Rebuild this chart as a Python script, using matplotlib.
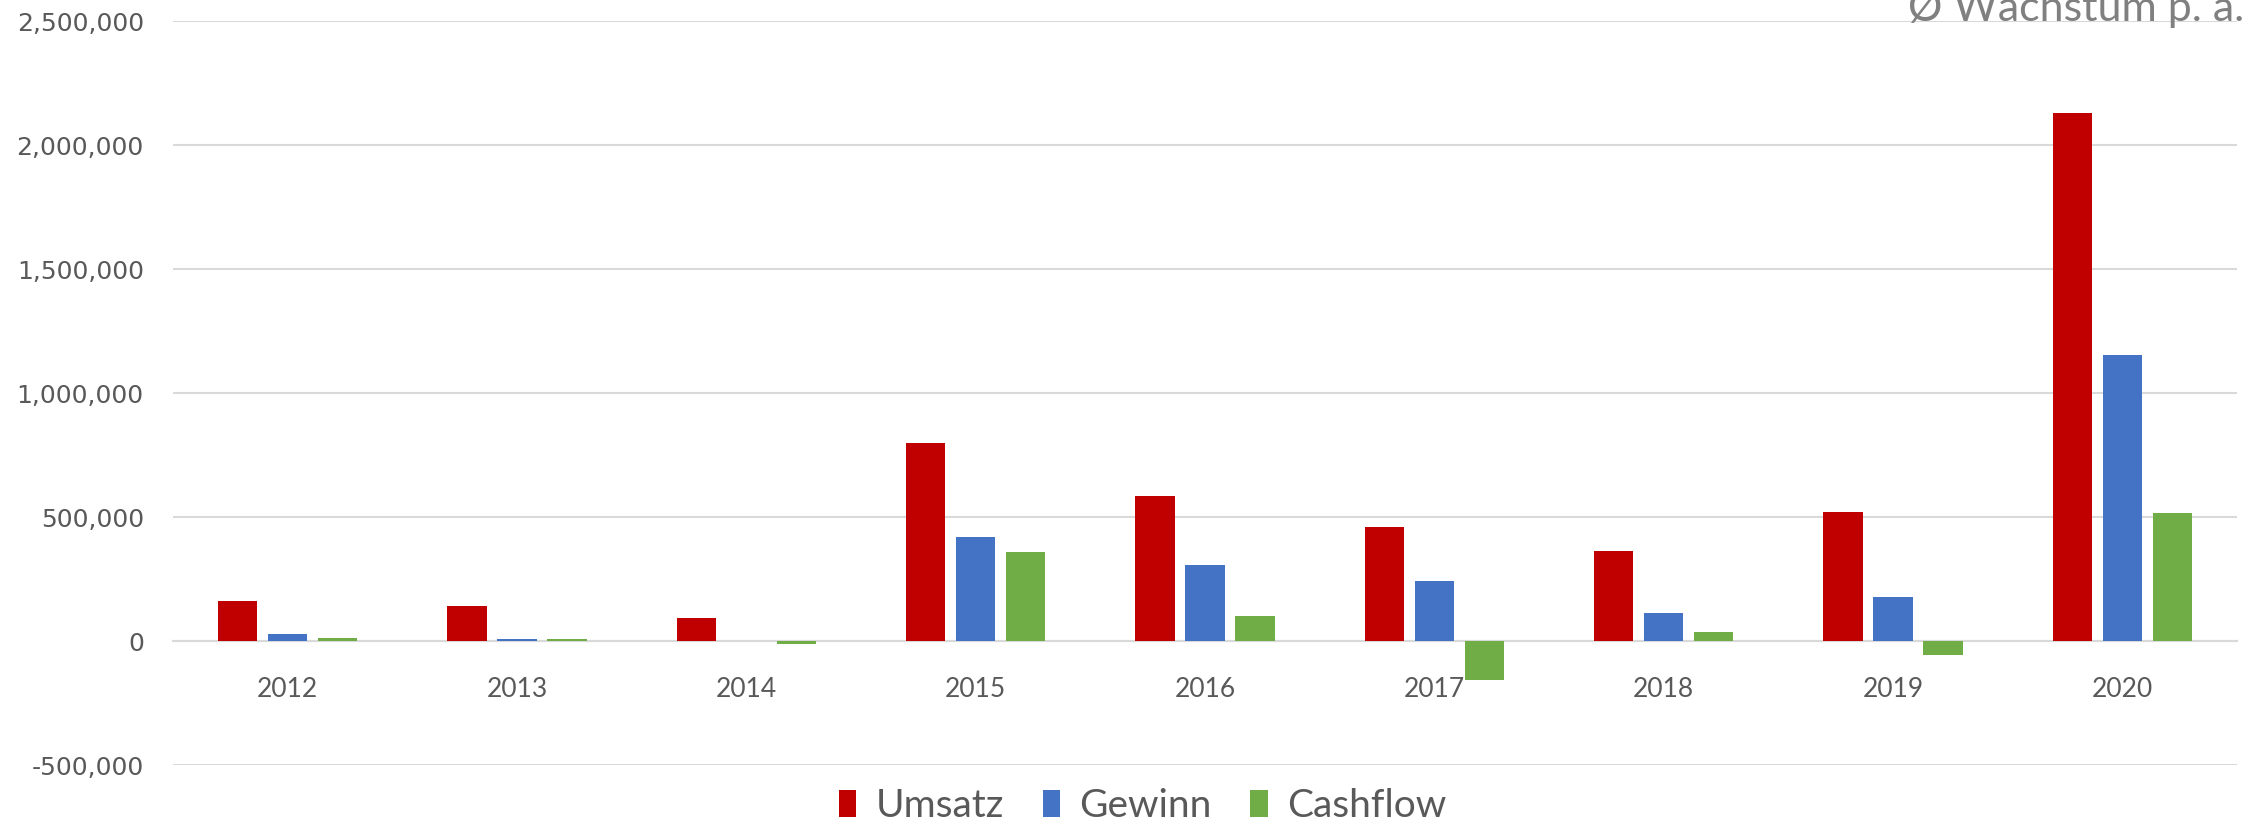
import matplotlib
matplotlib.use("Agg")
import matplotlib.pyplot as plt
import numpy as np
from matplotlib.ticker import FuncFormatter

years = ["2012", "2013", "2014", "2015", "2016", "2017", "2018", "2019", "2020"]
umsatz = [160000, 143000, 95000, 800000, 584000, 462000, 364000, 520000, 2132000]
gewinn = [30000, 10000, 0, 422000, 306000, 242000, 112000, 176000, 1155000]
cashflow = [13000, 10000, -12000, 358000, 102000, -155000, 37000, -56000, 518000]
series_names = ["Umsatz", "Gewinn", "Cashflow"]
colors = ["#C00000", "#4472C4", "#70AD47"]

fig = plt.figure(figsize=(22.49, 8.26), dpi=100)
ax = fig.add_axes([0.0769, 0.0738, 0.9178, 0.9002])

x = np.arange(len(years))
w = 0.172
off = 0.218
for i, (vals, name, c) in enumerate(zip([umsatz, gewinn, cashflow], series_names, colors)):
    ax.bar(x + (i - 1) * off, vals, width=w, color=c, label=name, zorder=3)

ax.set_xlim(-0.5, len(years) - 0.5)
ax.set_ylim(-500000, 2500000)
ax.set_yticks(np.arange(-500000, 2500001, 500000))
ax.yaxis.set_major_formatter(FuncFormatter(lambda v, p: f"{int(v):,}"))
ax.set_xticks(x)
ax.set_xticklabels(years)

ax.grid(axis="y", color="#D9D9D9", linewidth=1.5)
ax.set_axisbelow(True)
for s in ["top", "right", "left"]:
    ax.spines[s].set_visible(False)
ax.spines["bottom"].set_position(("data", 0))
ax.spines["bottom"].set_color("#D9D9D9")
ax.spines["bottom"].set_linewidth(1.5)

ax.tick_params(axis="both", length=0)
ax.tick_params(axis="y", pad=21, labelsize=18, labelcolor="#595959")
ax.tick_params(axis="x", pad=26, labelsize=19, labelcolor="#595959")
for lab in ax.get_yticklabels():
    lab.set_fontfamily("DejaVu Sans")
for lab in ax.get_xticklabels():
    lab.set_fontfamily("Lato")

fig.text(0.998, 1 - 21 / 826, "Ø Wachstum p. a.", ha="right", va="baseline",
         fontsize=31, color="#808080", family="Lato")

leg = fig.legend(loc="center", bbox_to_anchor=(0.508, 0.024), ncol=3, frameon=False,
                 handlelength=0.44, handleheight=0.7, handletextpad=0.5,
                 columnspacing=1.0, prop={"family": "Lato", "size": 28})
for t in leg.get_texts():
    t.set_color("#595959")

fig.savefig("out.png", dpi=100)
